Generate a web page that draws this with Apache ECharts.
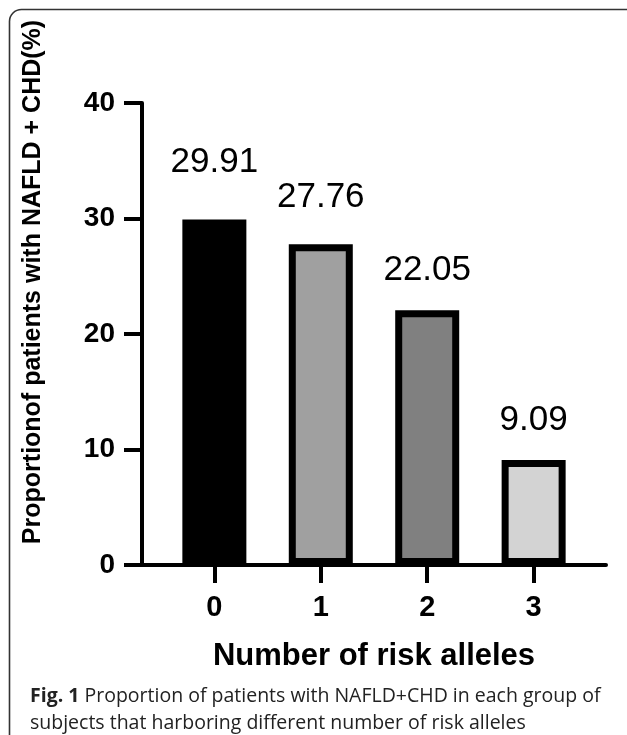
<!DOCTYPE html>
<html>
<head>
<meta charset="utf-8">
<script src="https://cdn.jsdelivr.net/npm/echarts@6/dist/echarts.min.js"></script>
<style>
html,body{margin:0;padding:0;background:#fff;}
#chart{width:627px;height:735px;}
</style>
</head>
<body>
<div id="chart"></div>
<script>
// ---- data ----
const categories = ['0', '1', '2', '3'];
const values = [29.91, 27.76, 22.05, 9.09];
const yTicks = [0, 10, 20, 30, 40];
const yAxisTitle = 'Proportionof patients with NAFLD + CHD(%)';
const xAxisTitle = 'Number of risk alleles';
const captionBold = 'Fig. 1';
const captionLine1 = ' Proportion of patients with NAFLD+CHD in each group of';
const captionLine2 = 'subjects that harboring different number of risk alleles';

// ---- styles ----
const barColors = ['#000000', '#a0a0a0', '#808080', '#d3d3d3'];
const labelGaps = [40, 30, 22, 22];

const FONT = 'Liberation Sans, Arial, Helvetica, sans-serif';
const chart = echarts.init(document.getElementById('chart'), null, {renderer: 'canvas'});

const seriesData = values.map((v, i) => ({
  value: [i, v],
  itemStyle: {color: barColors[i]},
  label: {distance: labelGaps[i]}
}));
const catIdx = categories.map((c, i) => i);

chart.setOption({
  animation: false,
  backgroundColor: '#ffffff',
  title: {
    left: 25,
    top: 678,
    text: '{b|' + captionBold + '}{n|' + captionLine1 + '}\n{n|' + captionLine2 + '}',
    textStyle: {
      fontWeight: 'normal',
      rich: {
        b: {fontFamily: 'Open Sans', fontWeight: 'bold', fontSize: 19.5, color: '#222', lineHeight: 27},
        n: {fontFamily: 'Open Sans', fontWeight: 'normal', fontSize: 19.5, color: '#222', lineHeight: 27}
      }
    }
  },
  graphic: [{
    type: 'rect',
    shape: {x: 9.5, y: 9.5, width: 1200, height: 1200, r: 12},
    style: {fill: 'none', stroke: '#333', lineWidth: 1.6},
    silent: true
  }],
  grid: {left: 142, right: 21, top: 103, bottom: 170, containLabel: false},
  xAxis: {
    type: 'value',
    min: -0.68,
    max: 3.68,
    name: xAxisTitle,
    nameLocation: 'middle',
    nameGap: 76,
    nameTextStyle: {fontFamily: FONT, fontWeight: 'bold', fontSize: 31, color: '#000'},
    axisLine: {show: true, onZero: false, lineStyle: {color: '#000', width: 4}},
    axisTick: {show: true, customValues: catIdx, length: 18, lineStyle: {color: '#000', width: 4}},
    axisLabel: {
      show: true,
      customValues: catIdx,
      formatter: v => categories[Math.round(v)],
      margin: 28,
      fontFamily: FONT, fontWeight: 'bold', fontSize: 29, color: '#000'
    },
    splitLine: {show: false}
  },
  yAxis: {
    type: 'value',
    min: yTicks[0],
    max: yTicks[yTicks.length - 1],
    interval: yTicks[1] - yTicks[0],
    name: yAxisTitle,
    nameLocation: 'middle',
    nameGap: 96,
    nameTextStyle: {fontFamily: FONT, fontWeight: 'bold', fontSize: 25, color: '#000', padding: [0, 0, 0, 104]},
    axisLine: {show: true, onZero: false, lineStyle: {color: '#000', width: 4}},
    axisTick: {show: true, length: 18, lineStyle: {color: '#000', width: 4}},
    axisLabel: {margin: 27, fontFamily: FONT, fontWeight: 'bold', fontSize: 28, color: '#000'},
    splitLine: {show: false}
  },
  series: [{
    type: 'bar',
    data: seriesData,
    barWidth: 64,
    itemStyle: {borderColor: '#000', borderWidth: 7},
    label: {
      show: true,
      position: 'top',
      distance: 30,
      formatter: p => p.value[1].toFixed(2),
      fontFamily: FONT, fontSize: 35, color: '#000'
    }
  }]
});
</script>
</body>
</html>
